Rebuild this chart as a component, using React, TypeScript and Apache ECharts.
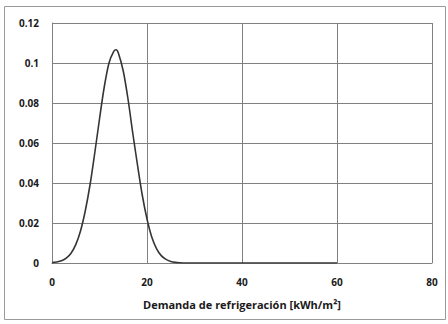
import React, { useEffect, useRef } from "react";
import * as echarts from "echarts";

const xValues = [0, 1, 2, 3, 4, 5, 6, 7, 8, 9, 10, 11, 12, 13, 13.5, 14, 15, 16, 17, 18, 19, 20, 21, 22, 23, 24, 25, 26, 27, 28, 30, 40, 50, 60];
const yValues = [0.0002, 0.0005, 0.0011, 0.0024, 0.0049, 0.0092, 0.016, 0.026, 0.039, 0.055, 0.072, 0.088, 0.1, 0.1058, 0.1066, 0.1048, 0.096, 0.082, 0.065, 0.049, 0.034, 0.022, 0.013, 0.0072, 0.0037, 0.0018, 0.0008, 0.0003, 0.0001, 0, 0, 0, 0, 0];
const xTicks = { min: 0, max: 80, interval: 20 };
const yTicks = { min: 0, max: 0.12, interval: 0.02 };
const xAxisTitle = "Demanda de refrigeración [kWh/m²]";

export default function App() {
  const ref = useRef<HTMLDivElement>(null);
  useEffect(() => {
    if (!ref.current) return;
    const chart = echarts.init(ref.current, null, { renderer: "svg" });
    const font = "'Open Sans', 'Noto Sans', sans-serif";
    chart.setOption({
      animation: false,
      backgroundColor: "#ffffff",
      graphic: [
        {
          type: "rect",
          shape: { x: 4.5, y: 6.5, width: 441, height: 313 },
          style: { fill: "none", stroke: "#9a9a9a", lineWidth: 1 },
          silent: true,
        },
      ],
      grid: { left: 52, top: 23, width: 380, height: 240, containLabel: false },
      xAxis: {
        type: "value",
        min: xTicks.min,
        max: xTicks.max,
        interval: xTicks.interval,
        name: xAxisTitle,
        nameLocation: "middle",
        nameGap: 36,
        nameTextStyle: { color: "#1a1a1a", fontSize: 11, fontWeight: "bold", fontFamily: font },
        axisLine: { show: true, lineStyle: { color: "#808080", width: 1 } },
        axisTick: { show: false },
        axisLabel: { color: "#1a1a1a", fontSize: 10, fontWeight: "bold", fontFamily: font, margin: 14 },
        splitLine: { show: true, lineStyle: { color: "#808080", width: 1 } },
      },
      yAxis: {
        type: "value",
        min: yTicks.min,
        max: yTicks.max,
        interval: yTicks.interval,
        axisLine: { show: true, lineStyle: { color: "#808080", width: 1 } },
        axisTick: { show: false },
        axisLabel: { color: "#1a1a1a", fontSize: 10, fontWeight: "bold", fontFamily: font, margin: 13 },
        splitLine: { show: true, lineStyle: { color: "#808080", width: 1 } },
      },
      series: [
        {
          type: "line",
          data: xValues.map((x, i) => [x, yValues[i]]),
          smooth: 0.3,
          showSymbol: false,
          lineStyle: { color: "#353535", width: 1.6 },
        },
      ],
    });
    return () => chart.dispose();
  }, []);
  return (
    <div
      ref={ref}
      style={{ position: "fixed", left: 0, top: 0, width: 448, height: 324 }}
    />
  );
}
